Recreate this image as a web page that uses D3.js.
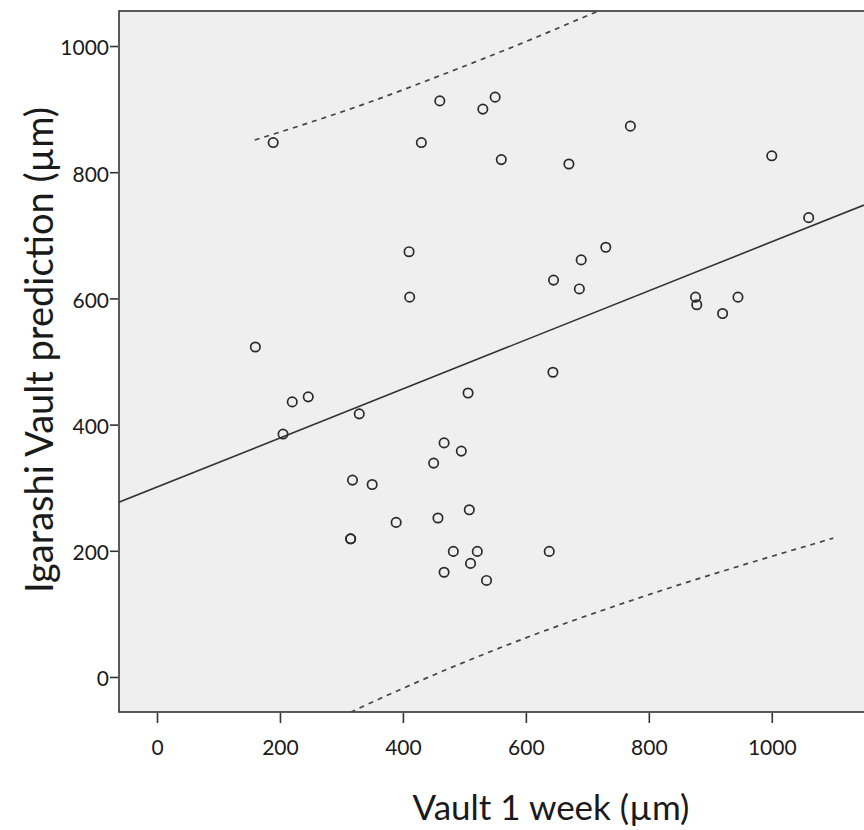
<!DOCTYPE html>
<html>
<head>
<meta charset="utf-8">
<script src="https://cdn.jsdelivr.net/npm/d3@7"></script>
<style>
  body { margin: 0; background: #fff; }
  text { font-family: Lato, "Open Sans", sans-serif; fill: #1a1a1a; }
</style>
</head>
<body>
<div id="chart"></div>
<script>
// Vault 1 week vs Igarashi vault prediction
const vault1Week = [189, 460, 530, 550, 430, 560, 410, 770, 670, 1000, 1060, 730, 690, 645, 687,
  876, 878, 945, 920, 644, 411, 160, 220, 246, 205, 329, 318, 350, 389, 315, 315, 467, 495, 450,
  457, 508, 482, 521, 510, 467, 536, 638, 506];
const igarashiPred = [847, 913, 900, 919, 847, 820, 674, 873, 813, 826, 728, 681, 661, 629, 615,
  602, 590, 602, 576, 483, 602, 523, 436, 444, 385, 417, 312, 305, 245, 219, 219, 371, 358, 339,
  252, 265, 199, 199, 180, 166, 153, 199, 450];

// fit line and 95% prediction band, in data units
const fitX = [-62, 1150];
const fitY = [277, 748];
const upperBandX = [159, 340, 476, 600, 717, 760];
const upperBandY = [851, 909, 959, 1007, 1055, 1072];
const lowerBandX = [300, 317, 400, 600, 774, 1100];
const lowerBandY = [-63, -55, -18, 62, 122, 220];

const xTicks = [0, 200, 400, 600, 800, 1000];
const yTicks = [0, 200, 400, 600, 800, 1000];

const W = 864, H = 830;
const plot = {left: 119, top: 11, right: 864, bottom: 712};

const svg = d3.select('#chart').append('svg').attr('width', W).attr('height', H);

const x = d3.scaleLinear().domain([-61.8, 1150]).range([plot.left, plot.right]);
const y = d3.scaleLinear().domain([-55.5, 1055.5]).range([plot.bottom, plot.top]);

svg.append('defs').append('clipPath').attr('id', 'clip')
  .append('rect').attr('x', plot.left).attr('y', plot.top)
  .attr('width', plot.right - plot.left + 10).attr('height', plot.bottom - plot.top);

svg.append('rect')
  .attr('x', plot.left).attr('y', plot.top)
  .attr('width', plot.right - plot.left + 10).attr('height', plot.bottom - plot.top)
  .attr('fill', '#efefef').attr('stroke', '#333').attr('stroke-width', 1.6);

// axes
const xAxis = svg.append('g').attr('transform', `translate(0,${plot.bottom + 1})`)
  .call(d3.axisBottom(x).tickValues(xTicks).tickFormat(d3.format('d')).tickSize(10).tickPadding(17));
const yAxis = svg.append('g').attr('transform', `translate(${plot.left - 1},0)`)
  .call(d3.axisLeft(y).tickValues(yTicks).tickFormat(d3.format('d')).tickSize(8).tickPadding(1));
[xAxis, yAxis].forEach(a => {
  a.select('.domain').remove();
  a.selectAll('line').attr('stroke', '#333').attr('stroke-width', 1.6);
  a.selectAll('text').attr('font-size', 21).attr('fill', '#1a1a1a')
    .style('font-family', 'Lato, sans-serif');
});
yAxis.selectAll('text').attr('dy', '0.42em');

const g = svg.append('g').attr('clip-path', 'url(#clip)');

const line = d3.line().x(d => x(d[0])).y(d => y(d[1]));
const smooth = d3.line().x(d => x(d[0])).y(d => y(d[1])).curve(d3.curveMonotoneX);

g.append('path').datum(d3.zip(fitX, fitY)).attr('d', line)
  .attr('fill', 'none').attr('stroke', '#333').attr('stroke-width', 1.6);

[[upperBandX, upperBandY], [lowerBandX, lowerBandY]].forEach(([bx, by]) => {
  g.append('path').datum(d3.zip(bx, by)).attr('d', smooth)
    .attr('fill', 'none').attr('stroke', '#444').attr('stroke-width', 1.7)
    .attr('stroke-dasharray', '5,5');
});

g.selectAll('circle.pt').data(d3.zip(vault1Week, igarashiPred)).enter().append('circle')
  .attr('class', 'pt')
  .attr('cx', d => x(d[0])).attr('cy', d => y(d[1]))
  .attr('r', 4.7)
  .attr('fill', 'none').attr('stroke', '#2a2a2a').attr('stroke-width', 1.7);

// axis titles
svg.append('text').attr('x', 551).attr('y', 820).attr('text-anchor', 'middle')
  .attr('font-size', 35).text('Vault 1 week (µm)');
svg.append('text').attr('transform', 'translate(53,350) rotate(-90)').attr('text-anchor', 'middle')
  .attr('font-size', 38).text('Igarashi Vault prediction (µm)');
</script>
</body>
</html>
